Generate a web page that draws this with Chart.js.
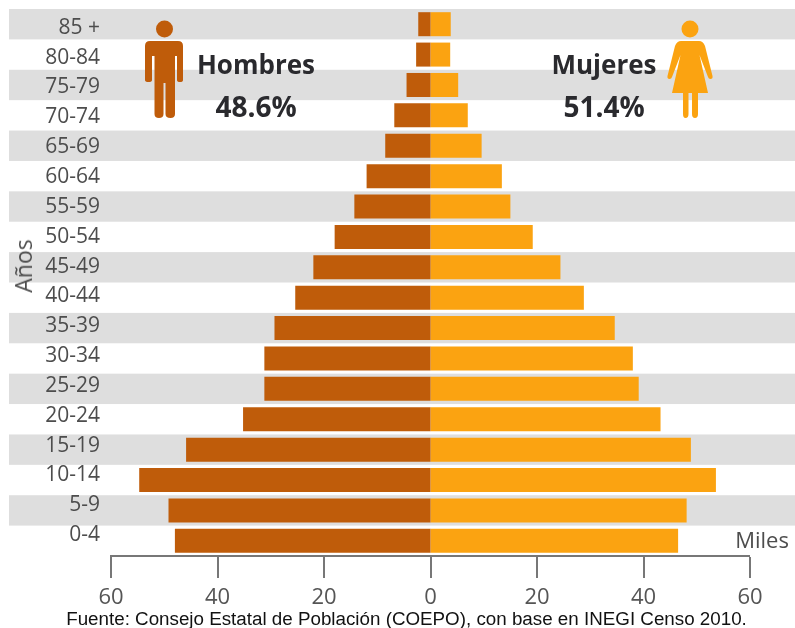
<!DOCTYPE html>
<html lang="es">
<head>
<meta charset="utf-8">
<title>Pirámide de población</title>
<script src="https://cdn.jsdelivr.net/npm/chart.js@4/dist/chart.umd.min.js"></script>
<style>
  html, body { margin: 0; padding: 0; background: #fff; }
  #wrap { position: relative; width: 795px; height: 628px; overflow: hidden; }
  canvas { position: absolute; left: 0; top: 0; }
  .note { position: absolute; white-space: nowrap; transform: translate(-50%, -50%); line-height: 1; }
  .big { font: 700 26px "Open Sans", sans-serif; color: #2a2a2e; }
  .pct { font-size: 28px; }
  .small { font: 400 22px "Open Sans", sans-serif; color: #4d4d4d; }
  #anos { left: 23px; top: 266px; transform: translate(-50%, -50%) rotate(-90deg); font-size: 23px; }
  #fuente { left: 406.5px; top: 619px; font: 400 18.8px "Liberation Sans", Arial, sans-serif; color: #111; }
  svg { position: absolute; }
</style>
</head>
<body>
<div id="wrap">
  <canvas id="pyramid" width="795" height="628"></canvas>
  <svg style="left:140px;top:15px" width="50" height="108" viewBox="0 0 50 108">
    <circle cx="24.5" cy="14" r="8.5" fill="#bf5c0a"/>
    <path fill="#bf5c0a" d="M10 26 H38 Q43 26 43 31 V65 Q43 67 40 67 Q37 67 37 65 V41 H35 V99 Q35 103 30.5 103 Q25.5 103 25.5 99 V68 H23.5 V99 Q23.5 103 19 103 Q14.5 103 14.5 99 V41 H12 V65 Q12 67 8.5 67 Q5 67 5 65 V31 Q5 26 10 26 Z"/>
  </svg>
  <svg style="left:665px;top:15px" width="50" height="108" viewBox="0 0 50 108">
    <circle cx="25" cy="14" r="8.5" fill="#fba311"/>
    <path fill="#fba311" d="M16 26 H34 Q38 26 40 31 L47.5 61 Q48 64 45.5 64 Q43.5 64 43 62 L34.5 40 L43 78 H33 V99 Q33 103 30 103 Q27 103 27 99 V78 H23.5 V99 Q23.5 103 20.5 103 Q18 103 18 99 V78 H7 L15.5 40 L7 62 Q6.5 64 4.5 64 Q2 64 2.5 61 L10 31 Q12 26 16 26 Z"/>
  </svg>
  <div class="note big" style="left:256px;top:64px">Hombres</div>
  <div class="note big pct" style="left:256px;top:106px">48.6%</div>
  <div class="note big" style="left:604px;top:64px">Mujeres</div>
  <div class="note big pct" style="left:604px;top:106px">51.4%</div>
  <div class="note small" style="left:762px;top:539px">Miles</div>
  <div class="note small" id="anos">Años</div>
  <div class="note" id="fuente">Fuente: Consejo Estatal de Población (COEPO), con base en INEGI Censo 2010.</div>
</div>
<script>
const ageGroups = ['85 +', '80-84', '75-79', '70-74', '65-69', '60-64', '55-59', '50-54', '45-49',
                   '40-44', '35-39', '30-34', '25-29', '20-24', '15-19', '10-14', '5-9', '0-4'];
const hombres = [2.3, 2.7, 4.5, 6.8, 8.5, 12, 14.3, 18, 22, 25.4, 29.3, 31.2, 31.2, 35.2, 45.9, 54.7, 49.2, 48];
const mujeres = [3.8, 3.7, 5.2, 7, 9.6, 13.4, 15, 19.2, 24.4, 28.8, 34.6, 38, 39.1, 43.2, 48.9, 53.6, 48.1, 46.5];

// grey bands behind every other age group, before the axis labels are drawn
const bandsPlugin = {
  id: 'bands',
  beforeDraw(chart) {
    const { ctx, scales: { y } } = chart;
    const rowH = y.getPixelForValue(1) - y.getPixelForValue(0);
    ctx.save();
    ctx.fillStyle = '#dedede';
    ageGroups.forEach((g, i) => {
      if (i % 2 === 0) {
        ctx.fillRect(9, y.getPixelForValue(i) - rowH / 2, chart.width - 9, rowH);
      }
    });
    ctx.restore();
  }
};

new Chart(document.getElementById('pyramid').getContext('2d'), {
  type: 'bar',
  plugins: [bandsPlugin],
  data: {
    labels: ageGroups,
    datasets: [
      { label: 'Hombres', data: hombres.map(v => -v), backgroundColor: '#bf5c0a' },
      { label: 'Mujeres', data: mujeres, backgroundColor: '#fba311' }
    ]
  },
  options: {
    indexAxis: 'y',
    responsive: false,
    animation: false,
    layout: { padding: { top: 9, right: 45 } },
    datasets: { bar: { categoryPercentage: 1, barPercentage: 0.79 } },
    plugins: { legend: { display: false }, tooltip: { enabled: false } },
    scales: {
      x: {
        stacked: true,
        min: -60,
        max: 60,
        afterFit: s => { s.height = 72; },
        border: { color: '#777', width: 2 },
        // lineWidth 0 so the two sides meet at zero with no gap
        grid: { drawOnChartArea: false, lineWidth: 0, tickColor: '#777', tickWidth: 2, tickLength: 22 },
        ticks: {
          stepSize: 20,
          maxRotation: 0,
          padding: 7,
          color: '#555',
          font: { family: '"Open Sans"', size: 22 },
          callback: v => Math.abs(v)
        }
      },
      y: {
        stacked: true,
        display: false
      },
      // labels sit on a slightly tighter spacing than the bars in the original,
      // so they get their own axis
      yLabels: {
        type: 'linear',
        position: 'left',
        reverse: true,
        offset: false,
        bounds: 'data',
        min: -0.63,
        max: 17.7,
        afterBuildTicks: s => { s.ticks = ageGroups.map((g, i) => ({ value: i })); },
        afterFit: s => { s.width = 111; s.paddingTop = 0; s.paddingBottom = 0; },
        border: { display: false },
        grid: { display: false, drawTicks: false },
        ticks: {
          autoSkip: false,
          padding: 11,
          color: '#4d4d4d',
          font: { family: '"Open Sans"', size: 21 },
          callback: v => ageGroups[v]
        }
      }
    }
  }
});
</script>
</body>
</html>
